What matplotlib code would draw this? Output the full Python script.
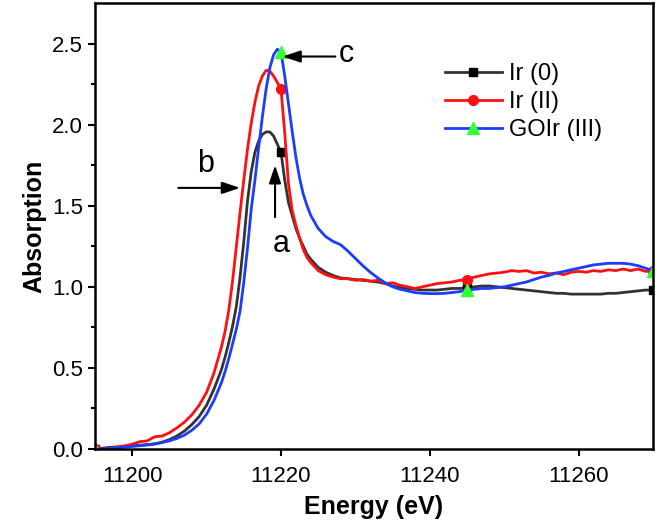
import numpy as np
import matplotlib.pyplot as plt

plt.rcParams['font.family'] = ['Liberation Sans', 'DejaVu Sans']

# energy grid (eV): 1 eV steps, 0.5 eV steps across the white line
energy = np.concatenate([np.arange(11195, 11212.5, 1.0),
                         np.arange(11212.5, 11224.5, 0.5),
                         np.arange(11225, 11270.5, 1.0)])

# Ir (0)
ir0 = [0.00, 0.005, 0.01, 0.013, 0.016, 0.02, 0.023, 0.027, 0.032, 0.042, 0.058, 0.08,
       0.11, 0.15, 0.20, 0.27, 0.37, 0.49,
       0.57, 0.66, 0.76, 0.88, 1.06, 1.28, 1.53, 1.71, 1.83, 1.90, 1.94, 1.955,
       1.955, 1.93, 1.88, 1.83, 1.66, 1.52, 1.44, 1.36, 1.30, 1.25, 1.20, 1.17,
       1.12, 1.09, 1.07, 1.055, 1.05, 1.045, 1.04, 1.035, 1.03, 1.02, 1.005, 0.995,
       0.99, 0.985, 0.98, 0.98, 0.98, 0.985, 0.99, 0.99, 0.995, 1.0, 1.005, 1.005,
       1.0, 0.995, 0.99, 0.985, 0.98, 0.975, 0.97, 0.965, 0.96, 0.96, 0.955, 0.955,
       0.955, 0.955, 0.955, 0.96, 0.96, 0.965, 0.97, 0.975, 0.98, 0.98]

# Ir (II)
ir2 = [0.00, 0.0, 0.005, 0.012, 0.02, 0.03, 0.045, 0.05, 0.075, 0.08, 0.10, 0.13,
       0.165, 0.21, 0.27, 0.35, 0.47, 0.63,
       0.73, 0.86, 1.04, 1.25, 1.46, 1.66, 1.85, 2.01, 2.14, 2.24, 2.30, 2.335,
       2.33, 2.30, 2.26, 2.22, 1.95, 1.64, 1.47, 1.38, 1.30, 1.23, 1.18, 1.15,
       1.10, 1.075, 1.06, 1.05, 1.05, 1.04, 1.045, 1.035, 1.04, 1.02, 1.025, 1.01,
       1.0, 0.99, 1.0, 1.01, 1.02, 1.025, 1.03, 1.04, 1.045, 1.06, 1.07, 1.08,
       1.085, 1.09, 1.10, 1.095, 1.10, 1.085, 1.09, 1.08, 1.085, 1.075, 1.09, 1.095,
       1.09, 1.10, 1.095, 1.105, 1.10, 1.11, 1.10, 1.11, 1.095, 1.10]

# GOIr (III)
goir = [0.00, 0.0, 0.004, 0.008, 0.012, 0.016, 0.02, 0.025, 0.03, 0.04, 0.05, 0.065,
        0.085, 0.115, 0.155, 0.215, 0.30, 0.41,
        0.48, 0.56, 0.65, 0.74, 0.85, 1.03, 1.24, 1.48, 1.66, 1.86, 2.05, 2.22,
        2.35, 2.43, 2.465, 2.45, 2.30, 2.13, 1.96, 1.80, 1.67, 1.57, 1.50, 1.44,
        1.36, 1.31, 1.28, 1.26, 1.22, 1.175, 1.13, 1.09, 1.055, 1.025, 1.0, 0.985,
        0.975, 0.965, 0.96, 0.958, 0.958, 0.96, 0.965, 0.97, 0.98, 0.985, 0.99, 0.99,
        0.995, 1.0, 1.01, 1.02, 1.03, 1.045, 1.06, 1.07, 1.085, 1.095, 1.105, 1.115,
        1.125, 1.135, 1.14, 1.145, 1.145, 1.145, 1.14, 1.13, 1.115, 1.10]

marker_energies = [11195, 11220, 11245, 11270]
marks = [i for i, e in enumerate(energy) if e in marker_energies]

fig, ax = plt.subplots(figsize=(6.57, 5.27), dpi=100)
fig.subplots_adjust(left=0.1446, right=0.9939, bottom=0.148, top=0.9943)

ax.plot(energy, ir0, color='#333333', lw=2, marker='s', ms=6,
        mfc='black', mec='black', markevery=marks, label='Ir (0)')
ax.plot(energy, ir2, color='#ff1010', lw=2, marker='o', ms=7,
        mfc='#ff1010', mec='#ff1010', markevery=marks, label='Ir (II)')
ax.plot(energy, goir, color='#1c3cff', lw=2, marker='^', ms=8,
        mfc='#33ff33', mec='#33ff33', markevery=marks, label='GOIr (III)')

ax.set_xlim(11195, 11270)
ax.set_ylim(0, 2.75)
ax.set_xticks([11200, 11220, 11240, 11260])
ax.set_yticks([0, 0.5, 1.0, 1.5, 2.0, 2.5])
ax.set_yticks(np.arange(0.25, 2.75, 0.5), minor=True)
ax.yaxis.set_major_formatter(plt.FormatStrFormatter('%.1f'))
ax.tick_params(axis='both', which='major', direction='out', length=5, width=1.5,
               labelsize=16)
ax.tick_params(axis='x', which='major', pad=7)
ax.tick_params(axis='y', which='minor', direction='out', length=3, width=1.5)
for s in ax.spines.values():
    s.set_linewidth(1.8)

ax.set_xlabel('Energy (eV)', fontsize=18, fontweight='bold', labelpad=6)
ax.set_ylabel('Absorption', fontsize=18, fontweight='bold')

# arrows and letters
arrow = dict(arrowstyle='-|>,head_length=0.9,head_width=0.3', color='black',
             lw=1.5, mutation_scale=12, shrinkA=0, shrinkB=0)
ax.annotate('', xy=(11214.5, 1.61), xytext=(11206.2, 1.61), arrowprops=arrow)
ax.annotate('', xy=(11219.2, 1.75), xytext=(11219.2, 1.43), arrowprops=arrow)
ax.annotate('', xy=(11220.2, 2.42), xytext=(11227.3, 2.42), arrowprops=arrow)
ax.text(11209.8, 1.76, 'b', fontsize=22, ha='center', va='center')
ax.text(11220.0, 1.265, 'a', fontsize=22, ha='center', va='center')
ax.text(11228.8, 2.435, 'c', fontsize=22, ha='center', va='center')

ax.legend(loc='upper left', bbox_to_anchor=(0.627, 0.865), frameon=False,
          fontsize=17, handlelength=2.4, handletextpad=0.3, labelspacing=0.25,
          borderpad=0, borderaxespad=0)

fig.savefig('out.png', dpi=100)
